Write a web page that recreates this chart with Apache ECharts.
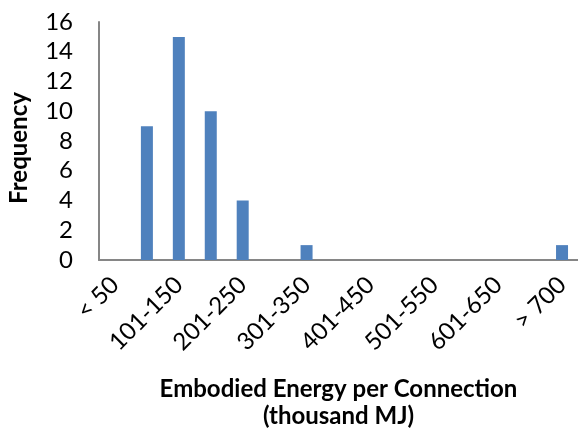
<!DOCTYPE html>
<html><head><meta charset="utf-8">
<script src="https://cdn.jsdelivr.net/npm/echarts@6/dist/echarts.min.js"></script>
<style>html,body{margin:0;padding:0;background:#fff}#c{width:578px;height:434px}</style>
</head><body><div id="c"></div>
<script>
const categories = ["< 50","51-100","101-150","151-200","201-250","251-300","301-350","351-400","401-450","451-500","501-550","551-600","601-650","651-700","> 700"];
const frequency = [0,9,15,10,4,0,1,0,0,0,0,0,0,0,1];
const yTicks = {min:0, max:16, interval:2};
const FONT = 'Lato';
const chart = echarts.init(document.getElementById('c'));
chart.setOption({
  animation:false,
  grid:{left:99, right:0, top:22, bottom:174, containLabel:false, outerBoundsMode:'none'},
  xAxis:{
    type:'category', data:categories,
    axisLine:{lineStyle:{color:'#868686', width:2}},
    axisTick:{show:false},
    axisLabel:{interval:1, rotate:45, margin:21, color:'#000', fontSize:24, fontFamily:FONT},
    name:'Embodied Energy per Connection\n(thousand MJ)',
    nameLocation:'middle', nameGap:116,
    nameTextStyle:{color:'#000', fontSize:24, fontWeight:'bold', fontFamily:FONT, lineHeight:27}
  },
  yAxis:{
    type:'value', min:yTicks.min, max:yTicks.max, interval:yTicks.interval,
    axisLine:{show:true, lineStyle:{color:'#868686', width:2}},
    axisTick:{show:false},
    splitLine:{show:false},
    axisLabel:{color:'#000', fontSize:24, fontFamily:FONT, margin:26},
    name:'Frequency', nameLocation:'middle', nameGap:68,
    nameTextStyle:{color:'#000', fontSize:24, fontWeight:'bold', fontFamily:FONT, padding:[0,14,0,0]}
  },
  series:[{type:'bar', data:frequency, barWidth:12, itemStyle:{color:'#4F81BD'}}]
});
</script></body></html>
